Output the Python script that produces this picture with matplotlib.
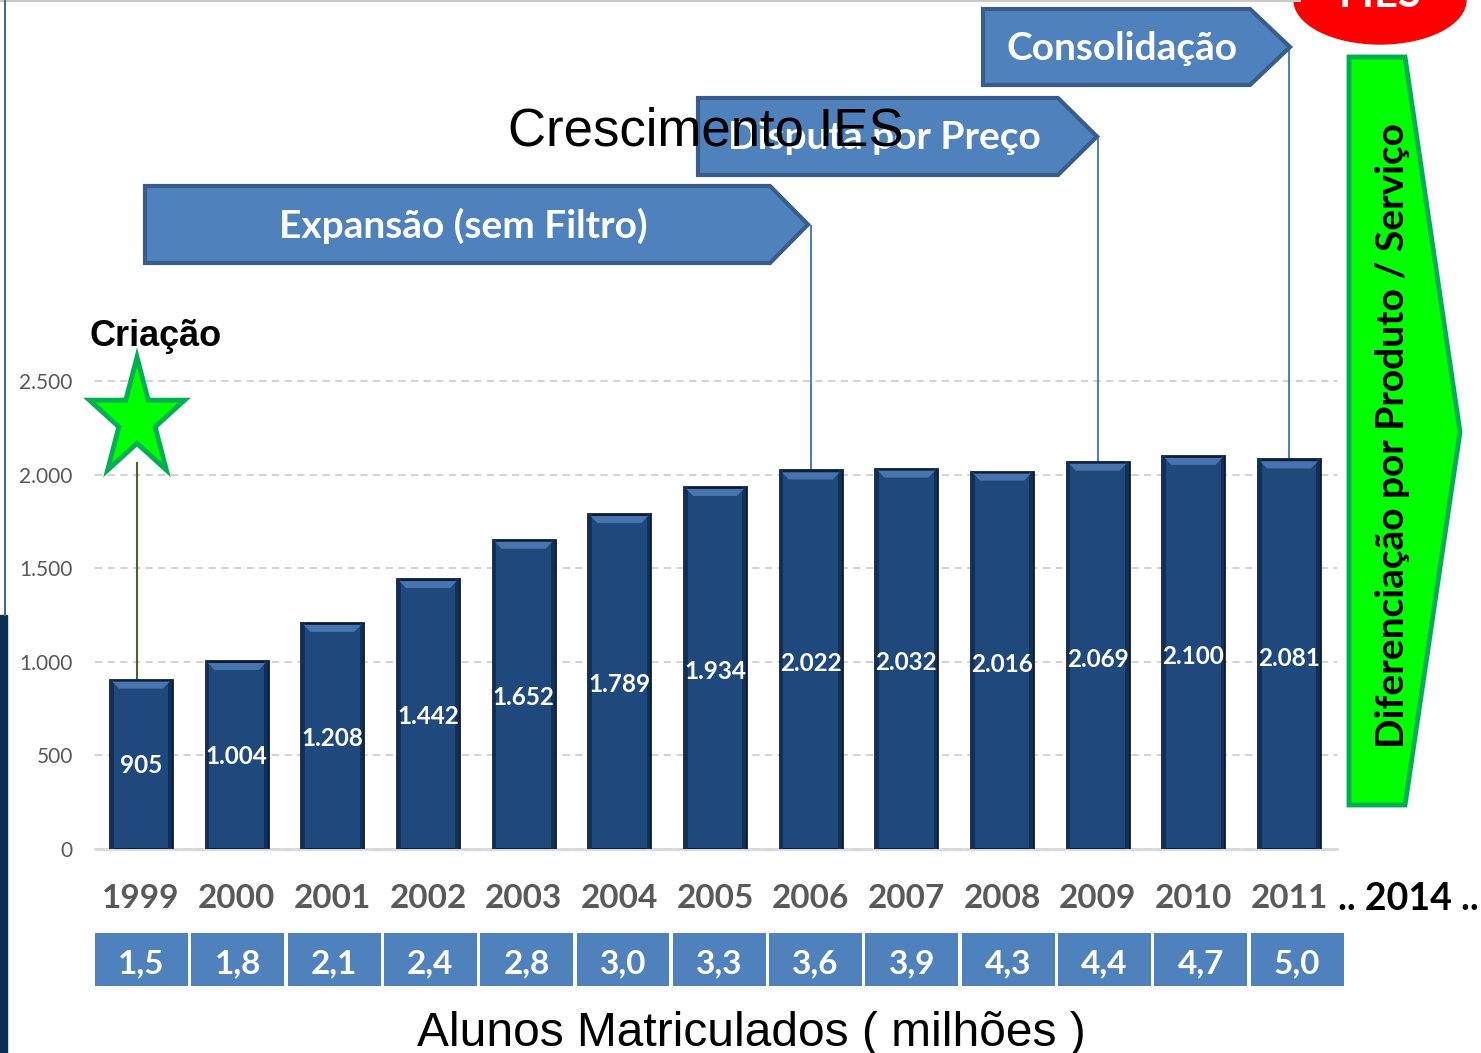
import numpy as np
import matplotlib.pyplot as plt
from matplotlib.patches import Polygon, Ellipse, Rectangle

# dados (mil alunos por ano)
years = ['1999', '2000', '2001', '2002', '2003', '2004', '2005',
         '2006', '2007', '2008', '2009', '2010', '2011']
alunos_ies = [905, 1004, 1208, 1442, 1652, 1789, 1934,
              2022, 2032, 2016, 2069, 2100, 2081]
value_labels = ['905', '1.004', '1.208', '1.442', '1.652', '1.789', '1.934',
                '2.022', '2.032', '2.016', '2.069', '2.100', '2.081']
matriculados = ['1,5', '1,8', '2,1', '2,4', '2,8', '3,0', '3,3',
                '3,6', '3,9', '4,3', '4,4', '4,7', '5,0']
yticks = [0, 500, 1000, 1500, 2000, 2500]
ytick_labels = ['0', '500', '1.000', '1.500', '2.000', '2.500']
phases = ['Expansão (sem Filtro)', 'Disputa por Preço', 'Consolidação']
phase_end = ['2006', '2009', '2011']

W, H = 1481, 1053
BASE = 849                      # pixel row of y = 0
SCALE = 2500 / (BASE - 381)     # data units per pixel


def py(p):
    return (BASE - p) * SCALE


fig = plt.figure(figsize=(W / 100, H / 100), dpi=100)
ax = fig.add_axes([95 / W, (H - BASE) / H, (1337 - 95) / W, BASE / H])
x = np.arange(len(years))
ax.set_xlim(-0.481, 12.501)
ax.set_ylim(0, BASE * SCALE)

ax.bar(x, alunos_ies, width=0.65, color='#1F497D', edgecolor='#0A1C36',
       linewidth=2, zorder=3)
# darker sides + bevel highlight on top of each bar
for xi, v in zip(x, alunos_ies):
    for side in (-1, 1):
        ax.fill([xi + side * 0.325, xi + side * 0.285, xi + side * 0.285, xi + side * 0.325],
                [0, 0, v, v], color='#142F55', zorder=3.5, lw=0)
    ax.fill([xi - 0.30, xi + 0.30, xi + 0.23, xi - 0.23],
            [v - 2 * SCALE, v - 2 * SCALE, v - 9 * SCALE, v - 9 * SCALE],
            color='#4874AE', zorder=4, lw=0)

for xi, v, lab in zip(x, alunos_ies, value_labels):
    ax.text(xi, v * 0.49, lab, ha='center', va='center', color='white',
            fontsize=17.5, fontweight='bold', family='Lato', zorder=5)

ax.set_yticks(yticks)
ax.set_yticklabels(ytick_labels, fontsize=15, color='#595959', family='Lato')
ax.tick_params(axis='y', length=0, pad=16)
ax.set_xticks([])
ax.yaxis.grid(True, linestyle=(0, (4, 3)), color='#CFCFCF', lw=1.3)
ax.set_axisbelow(True)
for s in ['left', 'right', 'top']:
    ax.spines[s].set_visible(False)
ax.spines['bottom'].set_color('#D9D9D9')
ax.spines['bottom'].set_linewidth(2)

# year labels and enrolled students boxes
for xi, yr in zip(x, years):
    ax.text(xi, py(899), yr, ha='center', va='center', color='#595959',
            fontsize=24, fontweight='bold', family='Lato', clip_on=False)
ax.text(12.51, py(899), '.. 2014 ..', ha='left', va='center', color='black',
        fontsize=27, fontweight='bold', family='Lato', clip_on=False)

xb = x * 96.3 / 95.67 + 0.005
ax.bar(xb, (986 - 933) * SCALE, bottom=py(986), width=0.972,
       color='#4F81BD', clip_on=False)
for xi, m in zip(xb, matriculados):
    ax.text(xi, py(964), m, ha='center', va='center', color='white',
            fontsize=24, fontweight='bold', family='Lato', clip_on=False)

# connectors from phase banners to bars
tips = [225, 136, 47]
for yr, t in zip(phase_end, tips):
    i = years.index(yr)
    ax.vlines(i, alunos_ies[i], py(t), color='#4F81BD', lw=1.5, zorder=2,
              clip_on=False)
ax.vlines(-0.04, alunos_ies[0], py(462), color='#4F6228', lw=1.5, zorder=2,
          clip_on=False)

# overlay in pixel coords for the decorations
ov = fig.add_axes([0, 0, 1, 1])
ov.set_xlim(0, W)
ov.set_ylim(H, 0)
ov.axis('off')

banners = [(145, 186, 263, 770, 808), (698, 98, 175, 1058, 1097),
           (983, 9, 85, 1250, 1290)]
for (l, t, b, r, tip), name in zip(banners, phases):
    ov.add_patch(Polygon([(l, t), (r, t), (tip, (t + b) / 2), (r, b), (l, b)],
                         closed=True, fc='#4F81BD', ec='#385D8A', lw=3))
    ov.text((l + r) / 2 + 6, (t + b) / 2 + 1, name, ha='center', va='center',
            color='white', fontsize=28, fontweight='bold', family='Lato')

ov.text(706, 131, 'Crescimento IES', ha='center', va='center', fontsize=38,
        family='Liberation Sans', color='black')

# star
ang = np.pi / 2 + np.arange(10) * np.pi / 5
rad = np.where(np.arange(10) % 2 == 0, 1.0, 0.382)
sx = 137 + 50 * rad * np.cos(ang)
sy = 419.5 - 62.5 * rad * np.sin(ang)
ov.add_patch(Polygon(np.column_stack([sx, sy]), closed=True, fc='#00FF00',
                     ec='#00B050', lw=3.5))
ov.text(156, 337, 'Criação', ha='center', va='center', fontsize=26,
        fontweight='bold', family='Liberation Sans')

# green arrow
ov.add_patch(Polygon([(1349, 57), (1405, 57), (1460, 432), (1405, 805),
                      (1349, 805)], closed=True, fc='#00FF00', ec='#00B050',
                     lw=3.5))
ov.text(1393, 436, 'Diferenciação por Produto / Serviço', rotation=90,
        ha='center', va='center', fontsize=28, fontweight='bold',
        family='Lato', color='black')

# FIES ellipse
ov.add_patch(Ellipse((1380, 0), 172, 88, color='#FF0000'))
ov.text(1380, -5, 'FIES', ha='center', va='center', fontsize=30,
        fontweight='bold', family='Lato', color='white')

ov.text(751, 1033, 'Alunos Matriculados ( milhões )', ha='center',
        va='center', fontsize=34.5, family='Liberation Sans', color='black')

# slide edge
ov.plot([0, 1300], [1, 1], color='#C8C8C8', lw=1.5)
ov.plot([5, 5], [0, 615], color='#4A6A8A', lw=1.5)
ov.add_patch(Rectangle((0, 615), 7, 438, color='#0B2F52'))

fig.savefig('out.png', dpi=100)
